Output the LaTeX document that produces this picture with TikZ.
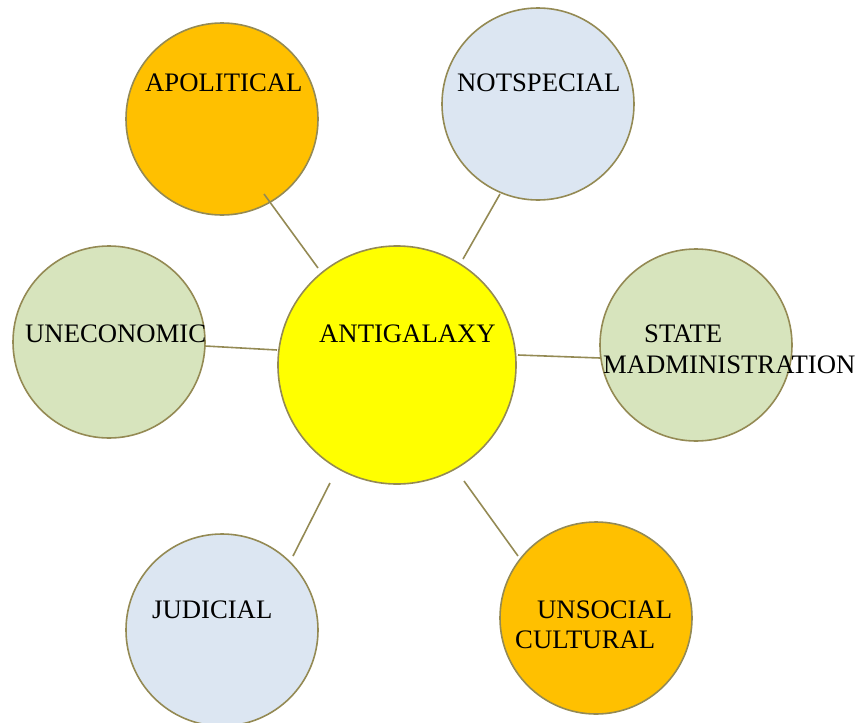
\documentclass[tikz,border=0pt]{standalone}
\usepackage{fontspec}
\setmainfont{Liberation Serif}
\definecolor{olive}{RGB}{148,138,84}
\definecolor{orng}{RGB}{255,192,0}
\definecolor{lblue}{RGB}{220,230,242}
\definecolor{lgreen}{RGB}{215,228,189}
\definecolor{yel}{RGB}{255,255,0}
\begin{document}
\begin{tikzpicture}[x=1pt,y=-1pt,
  bub/.style={circle,draw=olive,line width=1.6pt,minimum size=192pt,inner sep=0pt},
  lbl/.style={anchor=base west,inner sep=0pt,font=\fontsize{26.7}{31}\selectfont},
  link/.style={draw=olive,line width=1.6pt}]
\useasboundingbox (0,0) rectangle (860,723);
\coordinate (a1) at (264,194); \coordinate (a2) at (318,268);
\coordinate (b1) at (500,194); \coordinate (b2) at (463,259);
\coordinate (c1) at (205,346); \coordinate (c2) at (277,350);
\coordinate (d1) at (518,355); \coordinate (d2) at (600,358);
\coordinate (e1) at (330,483); \coordinate (e2) at (293,556);
\coordinate (f1) at (464,481); \coordinate (f2) at (518,556);
\node[bub,fill=orng] (apol) at (222,119) {};
\node[bub,fill=lblue] (nots) at (538,104) {};
\node[bub,fill=lgreen] (unec) at (109,342) {};
\node[bub,fill=lgreen] (stat) at (696,345) {};
\node[bub,fill=lblue] (judi) at (222,630) {};
\node[bub,fill=orng] (unso) at (596,618) {};
\node[bub,fill=yel,minimum size=238pt] (anti) at (397,365) {};
\draw[link] (a1) -- (a2);
\draw[link] (b1) -- (b2);
\draw[link] (c1) -- (c2);
\draw[link] (d1) -- (d2);
\draw[link] (e1) -- (e2);
\draw[link] (f1) -- (f2);
\node[lbl] (tapol) at (145,91) {APOLITICAL};
\node[lbl] (tnots) at (457,91) {NOTSPECIAL};
\node[lbl] (tunec) at (25,342) {UNECONOMIC};
\node[lbl] (tanti) at (319,342) {ANTIGALAXY};
\node[lbl] (tstat1) at (644,342) {STATE};
\node[lbl] (tstat2) at (603,373) {MADMINISTRATION};
\node[lbl] (tjudi) at (152,618) {JUDICIAL};
\node[lbl] (tunso1) at (537,618) {UNSOCIAL};
\node[lbl] (tunso2) at (515,648) {CULTURAL};
\end{tikzpicture}
\end{document}
